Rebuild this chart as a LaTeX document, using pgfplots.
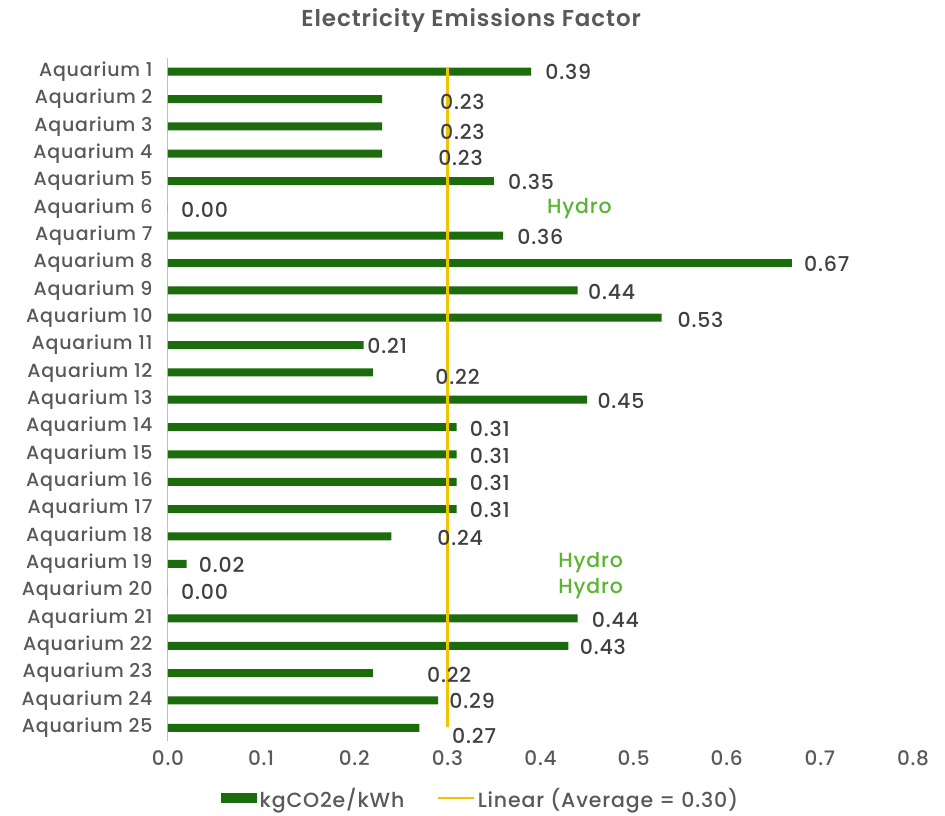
\documentclass[border=0pt]{standalone}
\usepackage{pgfplots}
\pgfplotsset{compat=1.18}
\usepackage{pgfplotstable}
\usepackage{fontspec}
\setmainfont{Poppins}[UprightFont=* Medium, BoldFont=* SemiBold, LetterSpace=4]

\definecolor{bargreen}{HTML}{1C6B0C}
\definecolor{hydrogreen}{HTML}{5BB432}
\definecolor{avgyellow}{HTML}{F2C300}
\definecolor{txtgray}{HTML}{595959}
\definecolor{valgray}{HTML}{404040}
\definecolor{axgray}{HTML}{BFBFBF}

% y: row position (Aquarium 1 at the top), val: kgCO2e/kWh,
% lx/ly: where the value label sits
\pgfplotstableread{
y  val   lx     ly
25 0.39  0.405  24.98
24 0.23  0.292  23.90
23 0.23  0.292  22.78
22 0.23  0.290  21.86
21 0.35  0.365  20.98
20 0.00  0.014  19.94
19 0.36  0.375  18.97
18 0.67  0.683  17.97
17 0.44  0.451  16.95
16 0.53  0.547  15.92
15 0.21  0.214  14.95
14 0.22  0.287  13.85
13 0.45  0.461  12.96
12 0.31  0.324  11.94
11 0.31  0.324  10.95
10 0.31  0.324   9.96
9  0.31  0.324   8.97
8  0.24  0.289   7.96
7  0.02  0.033   6.96
6  0.00  0.014   5.98
5  0.44  0.455   4.95
4  0.43  0.442   3.96
3  0.22  0.278   2.94
2  0.29  0.302   1.99
1  0.27  0.305   0.71
}\factors

% notes for the hydro-powered sites
\pgfplotstableread{
lx     ly
0.407  20.00
0.419  7.03
0.419  6.10
}\hydro

\newcommand{\catfont}{\fontsize{19}{22}\selectfont}
\newcommand{\tickfont}{\fontsize{20}{23}\selectfont}
\newcommand{\valfont}{\fontsize{20.5}{24}\selectfont}

\begin{document}
\begin{tikzpicture}[font=\catfont, text=txtgray]
\useasboundingbox (-168pt,-74pt) rectangle (777pt,741.5pt);
\begin{axis}[
  at={(0pt,0pt)}, anchor=south west,
  scale only axis, width=745pt, height=683.5pt,
  xmin=0, xmax=0.8, ymin=0.5, ymax=25.5,
  clip=false,
  axis x line*=bottom, axis y line*=left,
  x axis line style={draw=none},
  y axis line style={draw=axgray, line width=1pt, -},
  tick style={draw=none},
  xtick={0,0.1,0.2,0.3,0.4,0.5,0.6,0.7,0.8},
  xticklabel={\pgfmathprintnumber[fixed,fixed zerofill,precision=1]{\tick}},
  /pgf/number format/assume math mode=true,
  ytick={1,...,25},
  yticklabels={Aquarium 25,Aquarium 24,Aquarium 23,Aquarium 22,Aquarium 21,
    Aquarium 20,Aquarium 19,Aquarium 18,Aquarium 17,Aquarium 16,Aquarium 15,
    Aquarium 14,Aquarium 13,Aquarium 12,Aquarium 11,Aquarium 10,Aquarium 9,
    Aquarium 8,Aquarium 7,Aquarium 6,Aquarium 5,Aquarium 4,Aquarium 3,
    Aquarium 2,Aquarium 1},
  xticklabel style={font=\tickfont, text=txtgray, yshift=-6pt},
  yticklabel style={font=\catfont, text=txtgray, xshift=-12pt},
  legend style={at={(0.42,-0.083)}, anchor=center, draw=none,
    font=\valfont, text=txtgray, legend columns=2,
    /tikz/every even column/.append style={column sep=30pt},
    nodes={inner sep=2.5pt}},
]
\addplot[xbar, bar width=8pt, fill=bargreen, draw=none,
  legend image code/.code={\fill[bargreen] (0pt,-5pt) rectangle (36pt,5pt);}]
  table[x=val, y=y] {\factors};
\addlegendentry{kgCO2e/kWh}

\addplot[avgyellow, line width=2.5pt,
  legend image code/.code={\draw[avgyellow, line width=2.5pt] (0pt,0pt) -- (36pt,0pt);}]
  coordinates {(0.3,25.135) (0.3,1.04)};
\addlegendentry{Linear (Average = 0.30)}

\addplot[draw=none, mark=none, forget plot, point meta=explicit,
  nodes near coords={\pgfmathprintnumber[fixed,fixed zerofill,precision=2]{\pgfplotspointmeta}},
  nodes near coords style={anchor=west, inner sep=0pt, text=valgray, font=\valfont}]
  table[x=lx, y=ly, meta=val] {\factors};

\addplot[draw=none, mark=none, forget plot,
  nodes near coords={Hydro},
  nodes near coords style={anchor=west, inner sep=0pt, text=hydrogreen, font=\valfont}]
  table[x=lx, y=ly] {\hydro};

\node[font=\fontsize{23}{27}\selectfont\bfseries, text=txtgray]
  at (axis description cs:0.407,1.0545) {Electricity Emissions Factor};
\end{axis}
\end{tikzpicture}
\end{document}
